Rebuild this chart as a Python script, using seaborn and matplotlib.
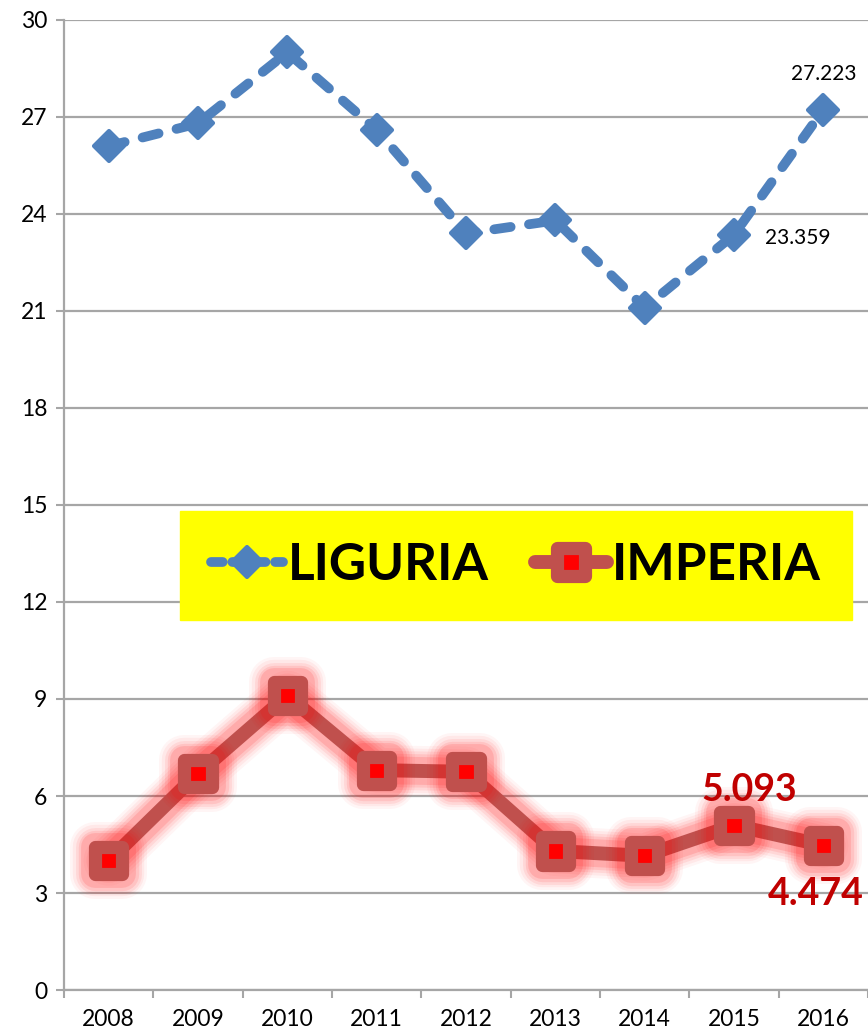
import matplotlib
matplotlib.use("Agg")
import matplotlib.pyplot as plt
import matplotlib.patheffects as pe
from matplotlib.lines import Line2D
from matplotlib.markers import MarkerStyle
import seaborn as sns

years = ["2008", "2009", "2010", "2011", "2012", "2013", "2014", "2015", "2016"]
liguria = [26.1, 26.8, 29.0, 26.6, 23.4, 23.8, 21.1, 23.359, 27.223]
imperia = [4.0, 6.7, 9.1, 6.8, 6.75, 4.3, 4.15, 5.093, 4.474]
y_ticks = [0, 3, 6, 9, 12, 15, 18, 21, 24, 27, 30]

blue = "#4F81BD"
dark_red = "#C0504D"

sns.set_theme(style="white")
plt.rcParams["font.family"] = ["Lato", "DejaVu Sans"]
plt.rcParams["text.color"] = "black"
plt.rcParams["xtick.labelcolor"] = "black"
plt.rcParams["ytick.labelcolor"] = "black"

fig = plt.figure(figsize=(8.68, 10.36), dpi=100)
ax = fig.add_axes([0.0737, 0.0444, 0.9263, 0.9363])

xs = list(range(len(years)))

sns.lineplot(
    x=xs, y=liguria, ax=ax,
    color=blue, linewidth=7, linestyle=(0, (1.7, 1.9)),
    dash_capstyle="round",
    marker=MarkerStyle("D", joinstyle="round"), markersize=15,
    markerfacecolor=blue, markeredgecolor=blue, markeredgewidth=3,
    zorder=3
)

glow = [
    pe.Stroke(linewidth=36, foreground="#FF0000", alpha=0.04),
    pe.Stroke(linewidth=32, foreground="#FF0000", alpha=0.05),
    pe.Stroke(linewidth=28, foreground="#FF0000", alpha=0.07),
    pe.Stroke(linewidth=24, foreground="#FF0000", alpha=0.09),
    pe.Stroke(linewidth=20, foreground="#FF0000", alpha=0.12),
    pe.Normal(),
]
sns.lineplot(
    x=xs, y=imperia, ax=ax,
    color=dark_red, linewidth=10,
    marker=MarkerStyle("s", joinstyle="round"), markersize=19.5,
    markerfacecolor="#FF0000", markeredgecolor=dark_red, markeredgewidth=9.5,
    path_effects=glow, zorder=3
)

# data labels
ax.text(8, liguria[8] + 1.1, "27.223", ha="center", va="center", fontsize=15)
ax.text(7.35, liguria[7] - 0.1, "23.359", ha="left", va="center", fontsize=15)
ax.text(7.17, imperia[7] + 1.1, "5.093", ha="center", va="center", fontsize=27,
        fontweight="bold", color="#C00000")
ax.text(7.91, imperia[8] - 1.5, "4.474", ha="center", va="center", fontsize=27,
        fontweight="bold", color="#C00000")

ax.set_ylim(0, 30)
ax.set_xlim(-0.5, 8.48)
ax.set_yticks(y_ticks)
ax.set_yticklabels([str(v) for v in y_ticks], fontsize=16.5)
ax.set_xticks(xs)
ax.set_xticklabels(years, fontsize=16.5)
ax.set_xticks([i - 0.5 for i in range(len(years) + 1)], minor=True)

ax.grid(axis="y", color="#A6A6A6", linewidth=1.6)
ax.grid(axis="x", visible=False)
ax.tick_params(axis="x", which="major", length=0, pad=14)
ax.tick_params(axis="x", which="minor", length=6, width=1.5, color="#A6A6A6", bottom=True)
ax.tick_params(axis="y", length=6, width=1.5, color="#A6A6A6", left=True, pad=6)
for side in ["top", "right"]:
    ax.spines[side].set_visible(False)
for side in ["left", "bottom"]:
    ax.spines[side].set_color("#A6A6A6")
    ax.spines[side].set_linewidth(1.6)

handles = [
    Line2D([], [], color=blue, linewidth=7, linestyle=(0, (1.2, 1.0)), dash_capstyle="round",
           marker=MarkerStyle("D", joinstyle="round"), markersize=15, markeredgewidth=3,
           markerfacecolor=blue, markeredgecolor=blue),
    Line2D([], [], color=dark_red, linewidth=10,
           marker=MarkerStyle("s", joinstyle="round"), markersize=19.5, markeredgewidth=9.5,
           markerfacecolor="#FF0000", markeredgecolor=dark_red),
]
leg = ax.legend(
    handles, ["LIGURIA", "IMPERIA"],
    loc="center", bbox_to_anchor=(0.562, 0.4377),
    ncol=2, prop={"weight": "bold", "size": 37}, labelcolor="black",
    frameon=True, fancybox=False, facecolor="#FFFF00", edgecolor="#FFFF00",
    framealpha=1, handlelength=1.4, handletextpad=0.1, columnspacing=0.9,
    borderpad=0.6, borderaxespad=0
)
leg.set_zorder(5)

plt.savefig("out.png", dpi=100)
plt.close()
